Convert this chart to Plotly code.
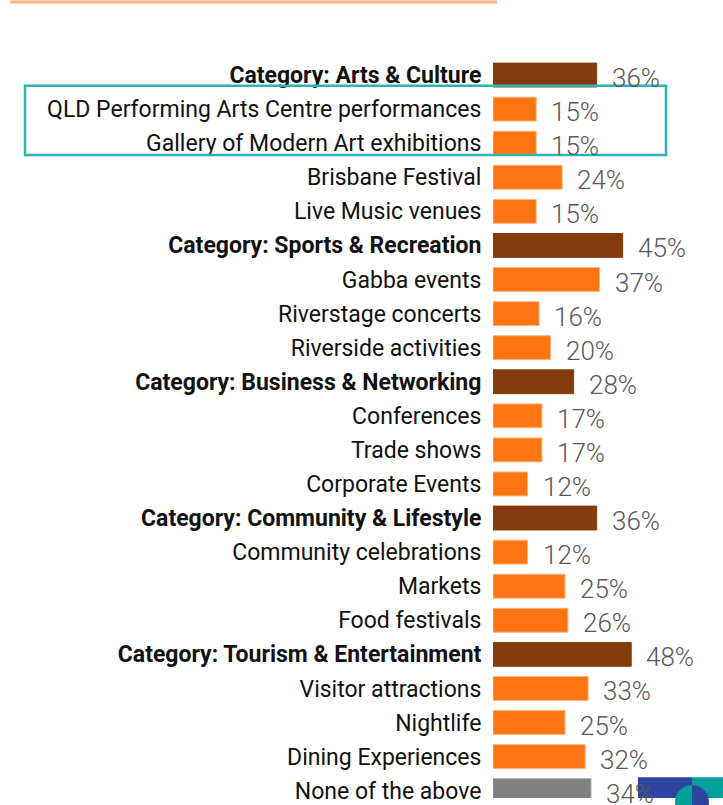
import math
import plotly.graph_objects as go

categories = [
    "Category: Arts & Culture",
    "QLD Performing Arts Centre performances",
    "Gallery of Modern Art exhibitions",
    "Brisbane Festival",
    "Live Music venues",
    "Category: Sports & Recreation",
    "Gabba events",
    "Riverstage concerts",
    "Riverside activities",
    "Category: Business & Networking",
    "Conferences",
    "Trade shows",
    "Corporate Events",
    "Category: Community & Lifestyle",
    "Community celebrations",
    "Markets",
    "Food festivals",
    "Category: Tourism & Entertainment",
    "Visitor attractions",
    "Nightlife",
    "Dining Experiences",
    "None of the above",
]
values = [36, 15, 15, 24, 15, 45, 37, 16, 20, 28, 17, 17, 12, 36, 12, 25, 26, 48, 33, 25, 32, 34]
row_type = ["cat", "item", "item", "item", "item", "cat", "item", "item", "item", "cat",
            "item", "item", "item", "cat", "item", "item", "item", "cat", "item", "item", "item", "none"]

color_map = {"cat": "#843C0C", "item": "#FF7514", "none": "#808080"}
line_map = {"cat": "#843C0C", "item": "#FFB27A", "none": "#A0A0A0"}

W, H = 723, 805
L, T = 493, 58
ROW = 34.4
PW, PH = W - L, H - T

def px(x):
    return (x - L) / PW

def py(y):
    return (H - y) / PH

def half_disc(cx, cy, r, side):
    # polygon approximation of a half disc (side=-1 left, +1 right), in paper coords
    pts = []
    for i in range(25):
        a = -math.pi / 2 + math.pi * i / 24
        pts.append((cx + side * r * math.cos(a), cy + r * math.sin(a)))
    d = "M " + " L ".join(f"{px(x):.5f},{py(y):.5f}" for x, y in pts) + " Z"
    return d

ypos = list(range(len(categories)))
ticktext = [f"<b>{c}</b>" if t == "cat" else c for c, t in zip(categories, row_type)]

fig = go.Figure()
fig.add_trace(go.Bar(
    x=values, y=ypos, orientation="h", width=0.7,
    marker=dict(color=[color_map[t] for t in row_type],
                line=dict(color=[line_map[t] for t in row_type], width=1)),
    hoverinfo="skip",
))

annotations = []
for v, yv in zip(values, ypos):
    annotations.append(dict(
        x=v, y=yv, xref="x", yref="y", text=f"{v}%", showarrow=False,
        xanchor="left", yanchor="middle", xshift=13, yshift=-3,
        font=dict(family="Roboto", size=26, color="#595959", weight=300),
    ))

shapes = [
    # top orange rule
    dict(type="line", xref="paper", yref="paper", x0=px(10), x1=px(497), y0=py(1.5), y1=py(1.5),
         line=dict(color="#FFB583", width=3)),
    # teal highlight box
    dict(type="rect", xref="paper", yref="paper", x0=px(25), x1=px(666), y0=py(156), y1=py(86),
         line=dict(color="#2BB3AE", width=2.5)),
    # logo fragment
    dict(type="rect", xref="paper", yref="paper", x0=px(638), x1=px(692), y0=py(805), y1=py(784),
         fillcolor="#2E44A0", line=dict(width=0), layer="below"),
    dict(type="rect", xref="paper", yref="paper", x0=px(692), x1=px(723), y0=py(805), y1=py(784),
         fillcolor="#00A19B", line=dict(width=0), layer="below"),
    dict(type="path", xref="paper", yref="paper", path=half_disc(692, 809, 17, -1),
         fillcolor="#00A19B", line=dict(width=0), layer="below"),
    dict(type="path", xref="paper", yref="paper", path=half_disc(692, 809, 17, 1),
         fillcolor="#2E44A0", line=dict(width=0), layer="below"),
]

fig.update_layout(
    width=W, height=H,
    margin=dict(l=L, r=0, t=T, b=0),
    plot_bgcolor="white", paper_bgcolor="white",
    showlegend=False,
    bargap=0.3,
    xaxis=dict(range=[0, PW / 2.88], visible=False, fixedrange=True),
    yaxis=dict(
        range=[-0.5 + PH / ROW, -0.5],
        tickmode="array", tickvals=ypos, ticktext=ticktext,
        ticks="outside", ticklen=6, tickcolor="rgba(0,0,0,0)",
        tickfont=dict(family="Roboto", size=23, color="#111111"),
        ticklabeloverflow="allow",
        showgrid=False, zeroline=False, showline=False, fixedrange=True,
    ),
    annotations=annotations,
    shapes=shapes,
)

fig.write_html("out.html", config={"displayModeBar": False},
               post_script="document.body.style.margin='0';")
